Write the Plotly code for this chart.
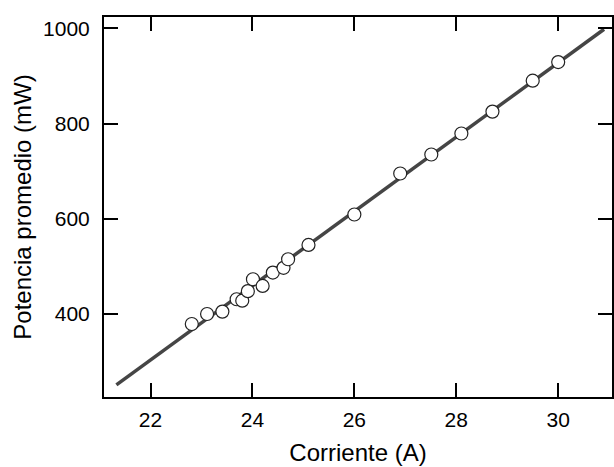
import plotly.graph_objects as go

# Data
corriente = [22.81, 23.11, 23.41, 23.69, 23.80, 23.91, 24.01, 24.20, 24.40,
             24.61, 24.70, 25.10, 26.00, 26.90, 27.51, 28.10, 28.71, 29.50, 30.00]
potencia = [379, 400, 405, 431, 428, 448, 473, 459, 487,
            497, 515, 545, 609, 695, 735, 779, 825, 890, 929]

fit_x = [21.33, 30.90]
fit_y = [251, 998]

x_ticks = [22, 24, 26, 28, 30]
y_ticks = [400, 600, 800, 1000]

FONT = "Liberation Sans, Arial, sans-serif"

fig = go.Figure()
fig.add_trace(go.Scatter(x=fit_x, y=fit_y, mode="lines",
                         line=dict(color="#454545", width=3.5),
                         showlegend=False, hoverinfo="skip"))
fig.add_trace(go.Scatter(x=corriente, y=potencia, mode="markers",
                         marker=dict(size=13, color="white",
                                     line=dict(color="#222222", width=1.2)),
                         showlegend=False))

axis_common = dict(showline=True, linecolor="black", linewidth=2,
                   mirror="ticks", ticks="inside", ticklen=14, tickwidth=2,
                   tickcolor="black", showgrid=False, zeroline=False,
                   tickfont=dict(family=FONT, size=21, color="black"))

fig.update_xaxes(range=[21.087, 31.056], tickvals=x_ticks,
                 ticklabelstandoff=3,
                 title=dict(text="Corriente (A)", standoff=14,
                            font=dict(family=FONT, size=24, color="black")),
                 **axis_common)
fig.update_yaxes(range=[225.7, 1023.7], tickvals=y_ticks,
                 ticklabelstandoff=8,
                 title=dict(text="Potencia promedio (mW)", standoff=5,
                            font=dict(family=FONT, size=24, color="black")),
                 **axis_common)

fig.update_layout(width=614, height=467,
                  margin=dict(l=104, r=0, t=17, b=70),
                  plot_bgcolor="white", paper_bgcolor="white",
                  font=dict(family=FONT, color="black"))

fig.write_html("out.html")
